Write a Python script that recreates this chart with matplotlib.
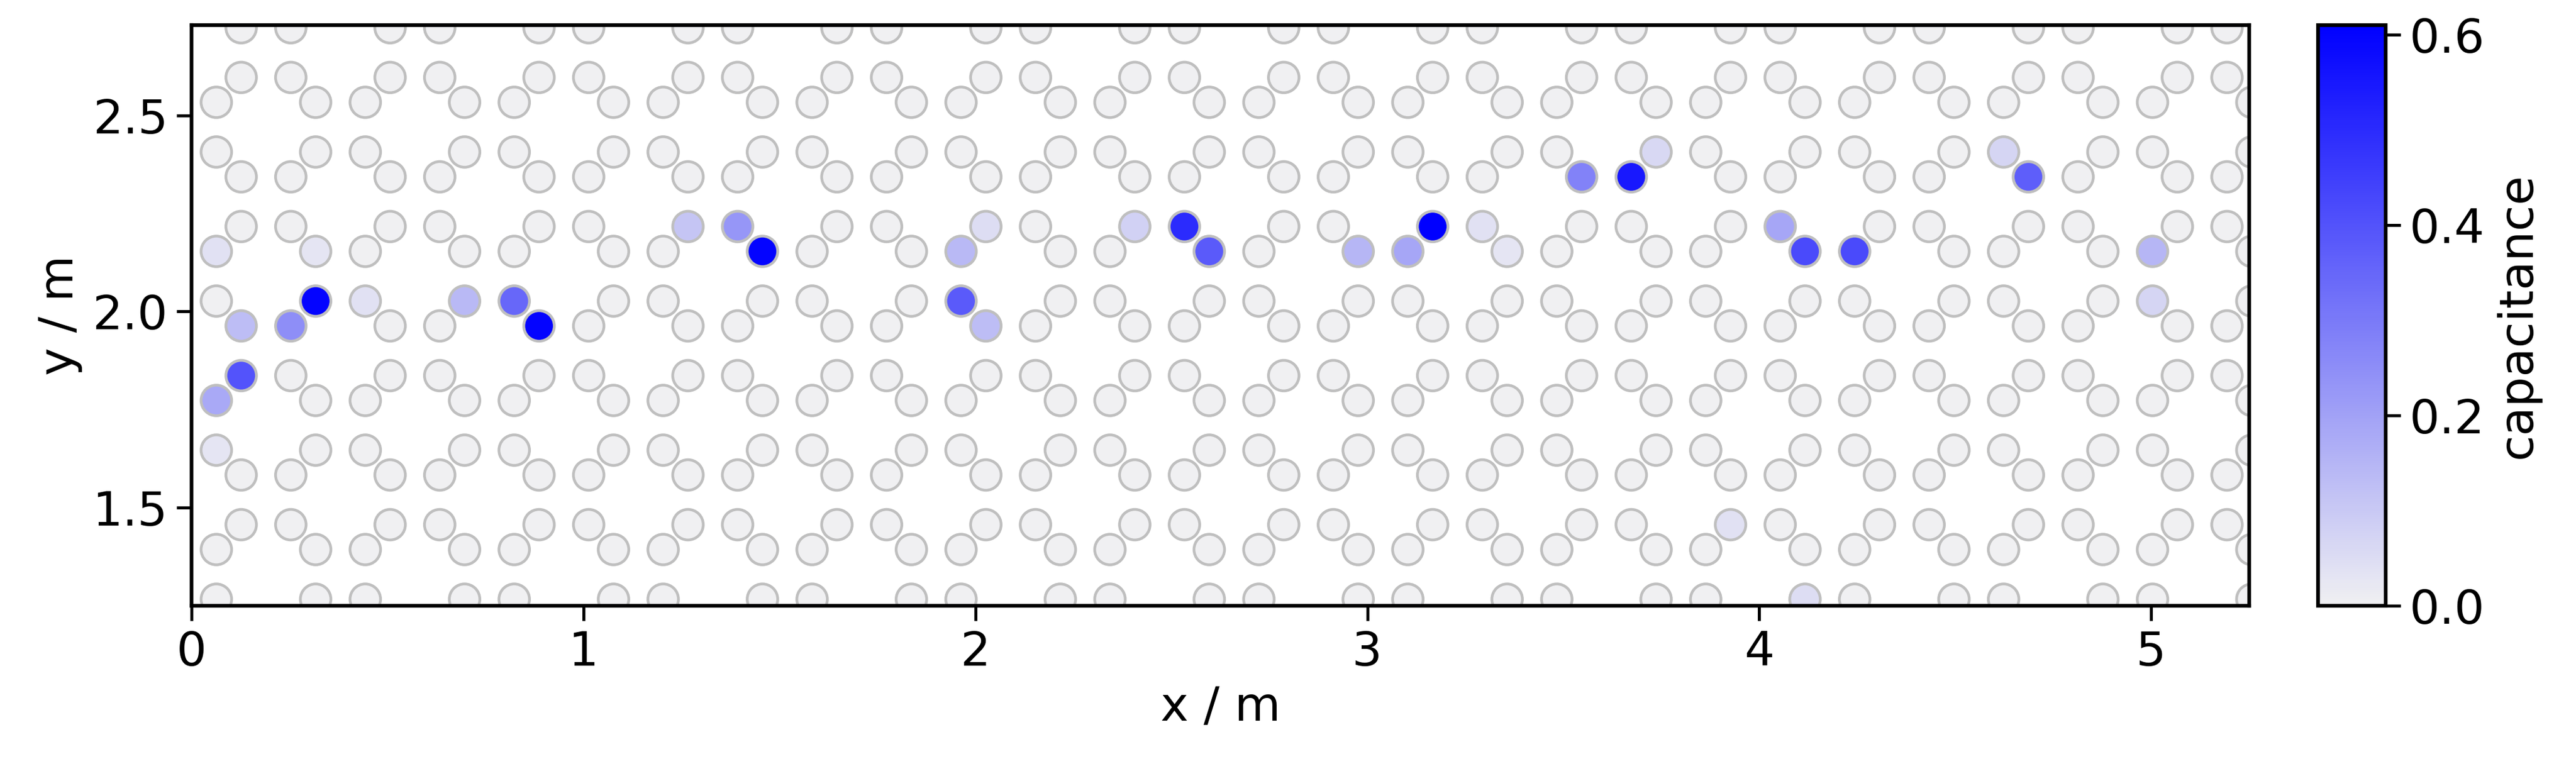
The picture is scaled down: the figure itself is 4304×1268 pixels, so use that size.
import numpy as np
import matplotlib
matplotlib.use("Agg")
import matplotlib.pyplot as plt
from matplotlib.colors import LinearSegmentedColormap

# lattice spacing (m)
d = 0.19 / 3
n_cols = np.arange(1, 84)
n_rows = np.arange(19, 44)

# non-zero capacitance sites: lattice column index, lattice row index, value
hot_col = [1, 2, 2, 4, 5, 1, 5, 5, 7, 11, 13, 14, 20, 22, 23, 1,
           31, 32, 31, 32, 38, 40, 41, 47, 49, 50, 52, 53,
           56, 58, 59, 73, 74, 64, 65, 67, 79, 79, 62, 65]
hot_row = [28, 29, 31, 31, 32, 34, 34, 32, 32, 32, 32, 31, 35, 35, 34, 26,
           34, 35, 32, 31, 35, 35, 34, 34, 34, 35, 35, 34,
           37, 37, 38, 38, 37, 35, 34, 34, 34, 32, 23, 20]
hot_val = [0.18, 0.40, 0.13, 0.25, 0.60, 0.04, 0.03, 0.60, 0.04, 0.14, 0.35, 0.60, 0.11, 0.23, 0.60, 0.03,
           0.14, 0.05, 0.38, 0.13, 0.08, 0.50, 0.38, 0.15, 0.19, 0.61, 0.04, 0.03,
           0.28, 0.55, 0.06, 0.07, 0.37, 0.19, 0.42, 0.42, 0.15, 0.07, 0.04, 0.05]

xs, ys = [], []
for n in n_cols:
    for m in n_rows:
        if n % 3 == 0 or m % 3 == 0:
            continue
        bi, bj = (n - 1) // 3, (m - 1) // 3
        a, b = (n - 1) % 3, (m - 1) % 3
        if (bi + bj) % 2 == 1:
            keep = a == b
        else:
            keep = a != b
        if keep:
            xs.append(n); ys.append(m)
vals = np.zeros(len(xs))
lookup = {(c, r): v for c, r, v in zip(hot_col, hot_row, hot_val)}
for i, (c, r) in enumerate(zip(xs, ys)):
    vals[i] = lookup.get((c, r), 0.0)
xs = np.array(xs) * d
ys = np.array(ys) * d

plt.rcParams['font.family'] = ['DejaVu Sans']
fig = plt.figure(figsize=(4304/300, 1268/300), dpi=300)
ax = fig.add_axes([320/4304, 1-1012/1268, (3758-320)/4304, (1012-42)/1268])
cax = fig.add_axes([3873/4304, 1-1012/1268, (3986-3873)/4304, (1012-42)/1268])
cmap = LinearSegmentedColormap.from_list("cap", ["#f0f0f2", "#0000ff"])
order = np.argsort(vals)
sc = ax.scatter(xs[order], ys[order], c=vals[order], cmap=cmap, vmin=0, vmax=0.61,
                s=150, edgecolors="#bfbfbf", linewidths=1.1, zorder=2)
ax.set_xlim(0, 5.25)
ax.set_ylim(1.25, 2.73)
ax.set_xticks([0, 1, 2, 3, 4, 5])
ax.set_yticks([1.5, 2.0, 2.5])
ax.tick_params(labelsize=19, width=1.2, length=6)
for s in ax.spines.values():
    s.set_linewidth(1.5)
ax.set_xlabel("x / m", fontsize=19)
ax.set_ylabel("y / m", fontsize=19)
cb = fig.colorbar(sc, cax=cax)
cb.set_ticks([0, 0.2, 0.4, 0.6])
cb.ax.tick_params(labelsize=19, width=1.2, length=6)
cb.outline.set_linewidth(1.5)
cb.set_label("capacitance", fontsize=19)
fig.savefig("out.png", dpi=300)
